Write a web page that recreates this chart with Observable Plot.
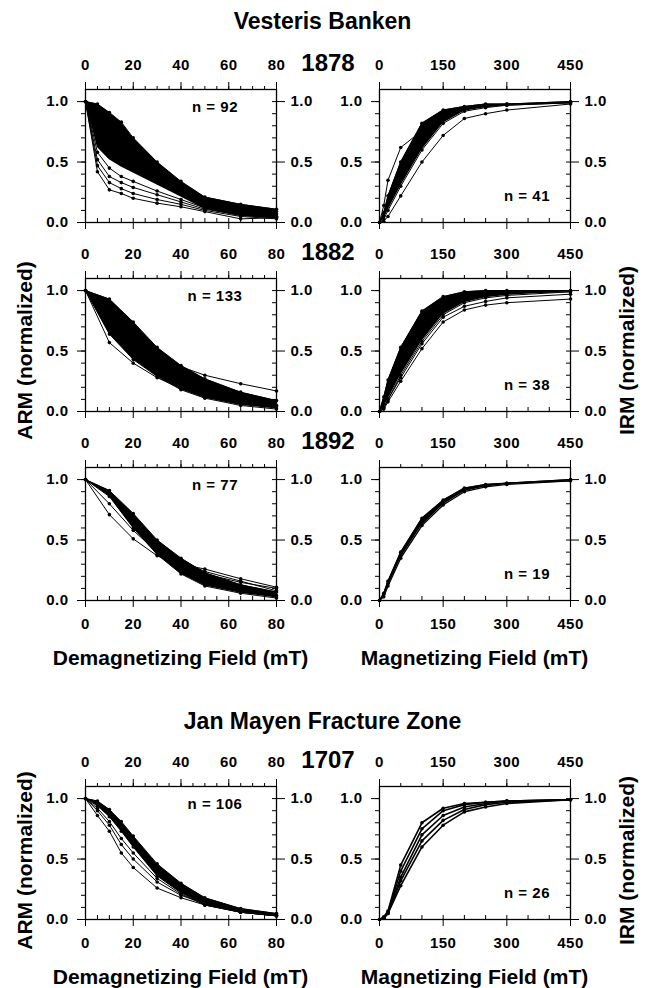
<!DOCTYPE html>
<html><head><meta charset="utf-8">
<script src="https://cdn.jsdelivr.net/npm/d3@7"></script>
<script src="https://cdn.jsdelivr.net/npm/@observablehq/plot@0.6"></script>
<style>
html,body{margin:0;padding:0;background:#fff;}
#chart{position:relative;width:645px;height:988px;overflow:hidden;font-family:"Liberation Sans",Arial,sans-serif;font-weight:bold;color:#000;background:#fff;}
.abs{position:absolute;white-space:nowrap;}
.title{font-size:23px;line-height:23px;text-align:center;width:645px;left:0;}
.year{font-size:24px;line-height:24px;width:100px;text-align:center;}
.xt{font-size:21px;line-height:21px;width:300px;text-align:center;}
.yt{font-size:21px;line-height:21px;width:260px;text-align:center;transform:rotate(-90deg);}
</style></head><body><div id="chart"></div>
<script>
// ---------- data ----------
const groupTitles = ["Vesteris Banken", "Jan Mayen Fracture Zone"];
const years = ["1878", "1882", "1892", "1707"];
const armTicks = [0, 20, 40, 60, 80];
const irmTicks = [0, 150, 300, 450];
const yTicks = [0, 0.5, 1.0];
const steps5 = [0, 5, 10, 15, 20, 30, 40, 50, 65, 80];
const steps10 = [0, 10, 20, 30, 40, 50, 65, 80];
const irmSteps = [0, 10, 20, 50, 100, 150, 200, 250, 300, 450];
const nLabels = ["n = 92", "n = 41", "n = 133", "n = 38", "n = 77", "n = 19", "n = 106", "n = 26"];

// 1878 ARM
const arm1878Hi = [1, .98, .91, .83, .70, .50, .34, .21, .15, .11];
const arm1878Lo = [1, .62, .52, .46, .41, .31, .21, .11, .05, .03];
const arm1878Curves = [
  [1, .98, .91, .83, .70, .50, .34, .21, .15, .11],
  [1, .88, .78, .70, .60, .45, .31, .19, .13, .09],
  [1, .72, .60, .52, .46, .34, .24, .14, .09, .05],
  [1, .66, .55, .48, .43, .33, .24, .15, .10, .07],
  [1, .58, .45, .38, .34, .26, .19, .12, .07, .05],
  [1, .52, .38, .33, .29, .23, .17, .11, .06, .04],
  [1, .47, .33, .28, .24, .19, .15, .10, .05, .03],
  [1, .42, .27, .24, .20, .16, .13, .09, .03, .04]
];
// 1878 IRM
const irm1878Hi = [0, .08, .22, .50, .82, .93, .96, .98, .98, 1.0];
const irm1878Lo = [0, .03, .10, .30, .60, .82, .92, .95, .97, .99];
const irm1878Curves = [
  [0, .14, .35, .62, .76, .90, .95, .97, .98, .99],
  [0, .08, .22, .50, .82, .93, .96, .98, .98, 1.0],
  [0, .05, .15, .40, .70, .88, .94, .96, .97, .99],
  [0, .03, .10, .30, .60, .82, .92, .95, .97, .99],
  [0, .01, .05, .22, .50, .72, .86, .90, .93, .98]
];
// 1882 ARM
const arm1882Hi = [1, .93, .74, .53, .38, .27, .16, .09];
const arm1882Lo = [1, .64, .43, .29, .18, .11, .05, .02];
const arm1882Curves = [
  [1, .93, .74, .53, .38, .27, .16, .09],
  [1, .90, .70, .50, .37, .30, .23, .17],
  [1, .80, .60, .42, .29, .19, .10, .05],
  [1, .64, .43, .29, .18, .11, .05, .02],
  [1, .57, .40, .28, .19, .13, .07, .04]
];
// 1882 IRM
const irm1882Hi = [0, .12, .26, .53, .83, .95, .99, 1.0, 1.0, 1.0];
const irm1882Lo = [0, .03, .10, .30, .58, .80, .90, .94, .96, .99];
const irm1882Curves = [
  [0, .12, .26, .53, .83, .95, .99, 1.0, 1.0, 1.0],
  [0, .06, .18, .42, .72, .88, .95, .97, .98, .99],
  [0, .03, .10, .30, .58, .80, .90, .94, .96, .99],
  [0, .03, .10, .28, .56, .78, .87, .91, .94, .97],
  [0, .02, .08, .25, .52, .74, .84, .88, .90, .93]
];
// 1892 ARM
const arm1892Hi = [1, .91, .72, .50, .35, .23, .13, .07];
const arm1892Lo = [1, .86, .60, .38, .22, .12, .06, .02];
const arm1892Curves = [
  [1, .91, .72, .50, .35, .23, .13, .07],
  [1, .89, .67, .45, .29, .17, .09, .04],
  [1, .86, .60, .38, .22, .12, .06, .02],
  [1, .88, .68, .48, .33, .24, .16, .08],
  [1, .80, .58, .40, .30, .26, .18, .11],
  [1, .71, .51, .37, .28, .22, .15, .10]
];
// 1892 IRM
const irm1892Hi = [0, .06, .16, .40, .68, .83, .93, .96, .97, 1.0];
const irm1892Lo = [0, .03, .12, .35, .62, .79, .90, .94, .96, .99];
const irm1892Curves = [
  [0, .06, .16, .40, .68, .83, .93, .96, .97, 1.0],
  [0, .05, .14, .38, .65, .81, .92, .95, .97, .99],
  [0, .03, .12, .35, .62, .79, .90, .94, .96, .99]
];
// 1707 ARM
const arm1707Hi = [1, .98, .91, .81, .69, .46, .30, .18, .09, .05];
const arm1707Lo = [1, .94, .85, .73, .60, .36, .22, .12, .06, .03];
const arm1707Curves = [
  [1, .98, .91, .81, .69, .46, .30, .18, .09, .05],
  [1, .96, .88, .77, .65, .41, .26, .15, .07, .04],
  [1, .94, .85, .73, .60, .36, .22, .12, .06, .03],
  [1, .92, .81, .67, .55, .34, .21, .12, .06, .03],
  [1, .90, .78, .62, .50, .31, .20, .13, .06, .03],
  [1, .86, .73, .55, .43, .26, .18, .12, .06, .03]
];
// 1707 IRM
const irm1707Hi = null;
const irm1707Lo = null;
const irm1707Curves = [
  [0, .02, .07, .45, .80, .92, .96, .97, .98, .99],
  [0, .02, .06, .40, .75, .90, .95, .97, .98, .99],
  [0, .01, .06, .35, .70, .86, .93, .96, .98, .99],
  [0, .01, .05, .32, .65, .82, .91, .95, .97, .99],
  [0, .01, .05, .28, .60, .78, .89, .93, .96, .99]
];

// ---------- layout ----------
const W = 191, H = 133;
const colX = [85, 379];
const rowTop = [89, 278, 467, 786];
const ML = 60, MR = 55, MT = 40, MB = 40;

const chart = document.getElementById("chart");
function addDiv(cls, text, left, top) {
  const d = document.createElement("div");
  d.className = "abs " + cls;
  d.textContent = text;
  d.style.left = left + "px";
  d.style.top = top + "px";
  chart.appendChild(d);
  return d;
}

function curveRows(steps, curves) {
  return curves.flatMap((c, i) => c.map((v, j) => ({id: i, x: steps[j], y: v})));
}
function bandRows(steps, hi, lo) {
  if (!hi) return [];
  return steps.map((s, j) => ({x: s, hi: hi[j], lo: lo[j]}));
}

function panel({row, col, steps, curves, hi, lo, nText, bottomLabels, lineW}) {
  const isArm = col === 0;
  const xmax = isArm ? 80 : 450;
  const majors = isArm ? armTicks : irmTicks;
  const minors = isArm ? d3.range(0, 81, 5) : d3.range(0, 451, 50);
  const minorY = d3.range(0, 11).map(d => d / 10);
  const data = curveRows(steps, curves);
  const band = bandRows(steps, hi, lo);
  const fmt = d3.format(".1f");
  const blank = () => "";
  const fig = Plot.plot({
    width: W + ML + MR, height: H + MT + MB,
    marginLeft: ML, marginRight: MR, marginTop: MT, marginBottom: MB,
    x: {domain: [0, xmax]},
    y: {domain: [0, 1.1]},
    style: {background: "transparent", fontFamily: "'Liberation Sans', Arial, sans-serif", fontWeight: "bold", fontSize: "15px", color: "black", overflow: "visible", letterSpacing: "0.5px"},
    marks: [
      Plot.areaY(band, {x: "x", y1: "lo", y2: "hi", fill: "black"}),
      Plot.line(data, {x: "x", y: "y", z: "id", stroke: "black", strokeWidth: lineW}),
      Plot.dot(data, {x: "x", y: "y", r: 1.8, fill: "black"}),
      Plot.frame({stroke: "black", strokeWidth: 1.3}),
      Plot.axisY({anchor: "left", ticks: yTicks, tickFormat: fmt, tickSize: 8, tickPadding: 9, label: null}),
      Plot.axisY({anchor: "left", ticks: minorY, tickSize: 4, tickFormat: blank, label: null}),
      Plot.axisY({anchor: "right", ticks: yTicks, tickFormat: fmt, tickSize: 8, tickPadding: 6, label: null}),
      Plot.axisY({anchor: "right", ticks: minorY, tickSize: 5, dx: -5, tickFormat: blank, label: null}),
      Plot.axisX({anchor: "top", ticks: majors, tickSize: 8, tickPadding: 12, label: null}),
      Plot.axisX({anchor: "top", ticks: minors, tickSize: 4, tickFormat: blank, label: null}),
      Plot.axisX({anchor: "bottom", ticks: majors, tickSize: 7, tickPadding: 11, tickFormat: bottomLabels ? (d => d) : blank, label: null}),
      Plot.axisX({anchor: "bottom", ticks: minors, tickSize: 4, dy: -4, tickFormat: blank, label: null}),
      Plot.text([nText], {
        text: d => d,
        frameAnchor: isArm ? "top" : "bottom",
        dx: isArm ? 34 : 52,
        dy: isArm ? 18 : -26,
        lineAnchor: "middle",
        fontSize: 15
      })
    ]
  });
  const wrap = document.createElement("div");
  wrap.className = "abs";
  wrap.style.left = (colX[col] - ML) + "px";
  wrap.style.top = (rowTop[row] - MT) + "px";
  wrap.appendChild(fig);
  chart.appendChild(wrap);
}

const panelDefs = [
  {row: 0, col: 0, steps: steps5, curves: arm1878Curves, hi: arm1878Hi, lo: arm1878Lo, nText: nLabels[0], bottomLabels: false, lineW: 1},
  {row: 0, col: 1, steps: irmSteps, curves: irm1878Curves, hi: irm1878Hi, lo: irm1878Lo, nText: nLabels[1], bottomLabels: false, lineW: 1},
  {row: 1, col: 0, steps: steps10, curves: arm1882Curves, hi: arm1882Hi, lo: arm1882Lo, nText: nLabels[2], bottomLabels: false, lineW: 1},
  {row: 1, col: 1, steps: irmSteps, curves: irm1882Curves, hi: irm1882Hi, lo: irm1882Lo, nText: nLabels[3], bottomLabels: false, lineW: 1},
  {row: 2, col: 0, steps: steps10, curves: arm1892Curves, hi: arm1892Hi, lo: arm1892Lo, nText: nLabels[4], bottomLabels: true, lineW: 1},
  {row: 2, col: 1, steps: irmSteps, curves: irm1892Curves, hi: irm1892Hi, lo: irm1892Lo, nText: nLabels[5], bottomLabels: true, lineW: 1.3},
  {row: 3, col: 0, steps: steps5, curves: arm1707Curves, hi: arm1707Hi, lo: arm1707Lo, nText: nLabels[6], bottomLabels: true, lineW: 1},
  {row: 3, col: 1, steps: irmSteps, curves: irm1707Curves, hi: irm1707Hi, lo: irm1707Lo, nText: nLabels[7], bottomLabels: true, lineW: 1.6}
];
panelDefs.forEach(panel);

// ---------- texts ----------
addDiv("title", groupTitles[0], 0, 10);
addDiv("title", groupTitles[1], 0, 710);
years.forEach((y, i) => addDiv("year", y, 328 - 50, rowTop[i] - 26 - 12));
const xTitles = ["Demagnetizing Field (mT)", "Magnetizing Field (mT)"];
[rowTop[2] + H, rowTop[3] + H].forEach(b => {
  addDiv("xt", xTitles[0], colX[0] + W / 2 - 150, b + 57 - 10);
  addDiv("xt", xTitles[1], colX[1] + W / 2 - 150, b + 57 - 10);
});
[350, 860].forEach(cy => {
  addDiv("yt", "ARM (normalized)", 24 - 130, cy - 10);
  addDiv("yt", "IRM (normalized)", 626 - 130, cy - 10);
});
</script></body></html>
